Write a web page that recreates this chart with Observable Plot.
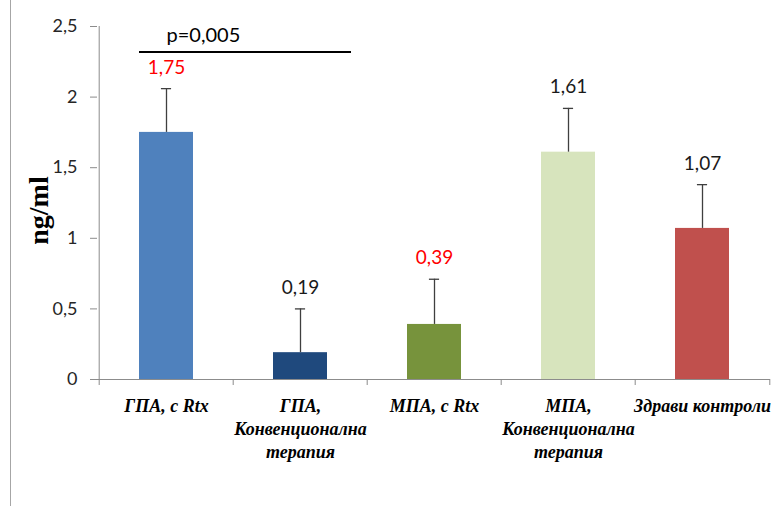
<!DOCTYPE html>
<html>
<head>
<meta charset="utf-8">
<script src="https://cdn.jsdelivr.net/npm/d3@7"></script>
<script src="https://cdn.jsdelivr.net/npm/@observablehq/plot@0.6"></script>
<style>
  html, body { margin: 0; padding: 0; background: #fff; }
  #chart { position: relative; width: 772px; height: 506px; }
  #chart::before { content: ""; position: absolute; left: 10px; top: 0; bottom: 0; border-left: 1px solid #a6a6a6; }
  #chart svg { position: absolute; left: 0; top: 0; }
</style>
</head>
<body>
<div id="chart"></div>
<script>
// Groups and their mean serum levels (ng/ml) with the upper error (SD)
const groups = [
  "ГПА, с Rtx",
  "ГПА,\nКонвенционална\nтерапия",
  "МПА, с Rtx",
  "МПА,\nКонвенционална\nтерапия",
  "Здрави контроли"
];
const means = [1.75, 0.19, 0.39, 1.61, 1.07];
const errors = [0.31, 0.31, 0.32, 0.31, 0.31];
const barColors = ["#4F81BD", "#1F497D", "#77933C", "#D7E4BD", "#C0504D"];
const labelColors = ["#FF0000", "#1a1a1a", "#FF0000", "#1a1a1a", "#1a1a1a"];
const yTicks = [0, 0.5, 1, 1.5, 2, 2.5];
const yLabel = "ng/ml";
const pText = "p=0,005";
const pLevel = 2.32;

const comma = (v, f) => d3.format(f)(v).replace(".", ",");
const rows = groups.map((g, i) => ({
  group: g,
  mean: means[i],
  upper: means[i] + errors[i],
  color: barColors[i],
  labelColor: labelColors[i],
  label: comma(means[i], ".2f")
}));

const W = 772, H = 506, mL = 97, mR = 2, mT = 26, mB = 127;
const step = (W - mL - mR) / groups.length;
const pad = 0.6;
const bandwidth = step * (1 - pad);
const axisGray = "#8c8c8c";
const numFont = "Lato, 'Open Sans', sans-serif";
const serif = "'Liberation Serif', 'DejaVu Serif', serif";

const chart = Plot.plot({
  width: W,
  height: H,
  marginLeft: mL,
  marginRight: mR,
  marginTop: mT,
  marginBottom: mB,
  style: { fontFamily: numFont, background: "transparent", overflow: "visible" },
  x: { domain: groups, paddingInner: pad, paddingOuter: pad / 2, axis: null },
  y: { domain: [0, 2.5], axis: null },
  color: { type: "identity" },
  marks: [
    // y axis: ticks, labels and the vertical line at the left edge of the first band
    Plot.axisY({
      ticks: yTicks,
      tickFormat: (d) => comma(d, "~g"),
      tickSize: 7,
      tickPadding: 13,
      fontSize: 18,
      stroke: axisGray,
      fill: "#262626",
      label: null
    }),
    Plot.ruleX([groups[0]], { x: (d) => d, y1: () => 0, y2: () => 2.5, dx: -step / 2, stroke: axisGray }),
    // x axis line and tick marks on the band boundaries
    Plot.ruleY([0], { stroke: axisGray }),
    Plot.ruleX(groups, { x: (d) => d, y1: () => 0, y2: () => 0, insetBottom: -6, dx: -step / 2, stroke: axisGray }),
    Plot.ruleX([groups[groups.length - 1]], { x: (d) => d, y1: () => 0, y2: () => 0, insetBottom: -6, dx: step / 2, stroke: axisGray }),
    // bars
    Plot.barY(rows, { x: "group", y: "mean", fill: "color" }),
    // error bars with caps
    Plot.ruleX(rows, { x: "group", y1: "mean", y2: "upper", stroke: "#3f3f3f", strokeWidth: 1.3 }),
    Plot.tickY(rows, {
      x: "group", y: "upper", stroke: "#3f3f3f", strokeWidth: 1.3,
      insetLeft: (bandwidth - 10) / 2, insetRight: (bandwidth - 10) / 2
    }),
    // value labels
    Plot.text(rows, { x: "group", y: "upper", text: "label", fill: "labelColor", dy: -21, fontSize: 19 }),
    // significance bracket between the two ГПА groups
    Plot.ruleY([pLevel], {
      y: (d) => d, x1: () => groups[0], x2: () => groups[1],
      insetRight: -24, stroke: "#000", strokeWidth: 2
    }),
    Plot.text([pText], {
      x: () => groups[0], y: () => pLevel, text: (d) => d,
      textAnchor: "start", dy: -16, fontSize: 20, fill: "#000"
    }),
    // category labels
    Plot.text(groups, {
      x: (d) => d, y: () => 0, text: (d) => d,
      lineAnchor: "top", dy: 16, lineHeight: 1.28,
      fontFamily: serif, fontStyle: "italic", fontWeight: "bold", fontSize: 18, fill: "#000"
    }),
    // y axis title
    Plot.text([yLabel], {
      frameAnchor: "left", text: (d) => d, rotate: -90, textAnchor: "middle", dx: -58, dy: 7.5,
      fontFamily: serif, fontWeight: "bold", fontSize: 28, fill: "#000"
    })
  ]
});

document.getElementById("chart").appendChild(chart);
</script>
</body>
</html>
